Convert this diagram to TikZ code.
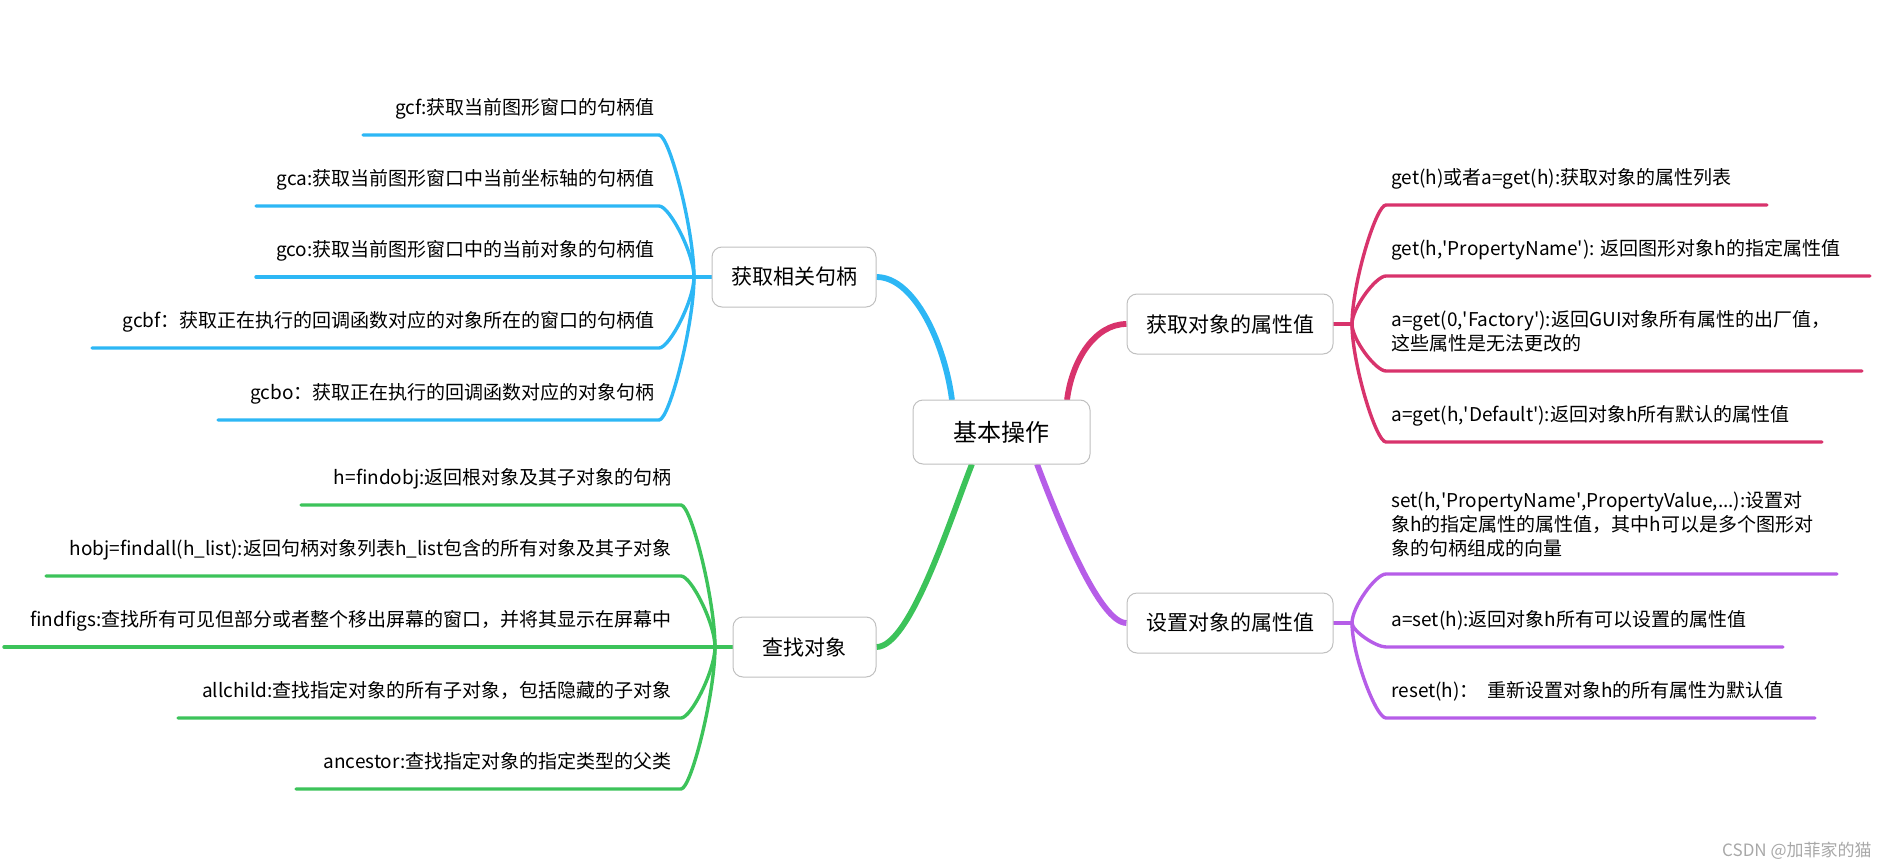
\documentclass[tikz,border=0pt]{standalone}
\usepackage{fontspec}
\setmainfont{Noto Sans CJK SC}
\usetikzlibrary{calc}
\definecolor{cblue}{HTML}{2DB7F5}
\definecolor{cpink}{HTML}{D8336C}
\definecolor{cgreen}{HTML}{3CC35A}
\definecolor{cpurple}{HTML}{B65DE8}
\definecolor{cborder}{HTML}{C0C0C0}
\definecolor{cmark}{HTML}{A8A8A8}
\pgfdeclarelayer{bg}
\pgfsetlayers{bg,main}
\begin{document}
\begin{tikzpicture}[x=0.5pt,y=-0.5pt,
  topic/.style={draw=cborder, line width=0.5pt, rounded corners=5pt, fill=white, inner sep=0pt,
    minimum height=30pt, font=\fontsize{10.5}{13}\selectfont},
  roottopic/.style={topic, minimum height=32pt, minimum width=88.5pt, font=\fontsize{12}{14}\selectfont},
  leafl/.style={anchor=base east, inner sep=0pt, font=\fontsize{9.5}{12}\selectfont, align=right},
  leafr/.style={anchor=base west, inner sep=0pt, font=\fontsize{9.5}{12}\selectfont, align=left},
  mainline/.style={line width=2.9pt},
  subline/.style={line width=1.7pt, line cap=round},
]
\useasboundingbox (0,0) rectangle (1886,867);

% topics
\node[roottopic] (root) at (1001.5,432) {基本操作};
\node[topic, minimum width=82pt] (b1) at (794,277) {获取相关句柄};
\node[topic, minimum width=103pt] (b2) at (1230,324) {获取对象的属性值};
\node[topic, minimum width=71.5pt] (b3) at (804.5,647) {查找对象};
\node[topic, minimum width=103pt] (b4) at (1230,623) {设置对象的属性值};

% blue leaves
\node[leafl] (t11) at (655,114) {gcf:获取当前图形窗口的句柄值};
\node[leafl] (t12) at (655,185) {gca:获取当前图形窗口中当前坐标轴的句柄值};
\node[leafl] (t13) at (655,256) {gco:获取当前图形窗口中的当前对象的句柄值};
\node[leafl] (t14) at (655,327) {gcbf：获取正在执行的回调函数对应的对象所在的窗口的句柄值};
\node[leafl] (t15) at (655,399) {gcbo：获取正在执行的回调函数对应的对象句柄};

% green leaves
\node[leafl] (t31) at (672,484) {h=findobj:返回根对象及其子对象的句柄};
\node[leafl] (t32) at (672,555) {hobj=findall(h\_list):返回句柄对象列表h\_list包含的所有对象及其子对象};
\node[leafl] (t33) at (672,626) {findfigs:查找所有可见但部分或者整个移出屏幕的窗口，并将其显示在屏幕中};
\node[leafl] (t34) at (672,697) {allchild:查找指定对象的所有子对象，包括隐藏的子对象};
\node[leafl] (t35) at (672,768) {ancestor:查找指定对象的指定类型的父类};

% pink leaves (base anchor = baseline of last line)
\node[leafr] (t21) at (1391,184) {get(h)或者a=get(h):获取对象的属性列表};
\node[leafr] (t22) at (1391,255) {get(h,\textquotesingle PropertyName\textquotesingle): 返回图形对象h的指定属性值};
\node[leafr] (t23) at (1391,350) {a=get(0,\textquotesingle Factory\textquotesingle):返回GUI对象所有属性的出厂值，\\这些属性是无法更改的};
\node[leafr] (t24) at (1391,421) {a=get(h,\textquotesingle Default\textquotesingle):返回对象h所有默认的属性值};

% purple leaves
\node[leafr] (t41) at (1391,555) {set(h,\textquotesingle PropertyName\textquotesingle,PropertyValue,...):设置对\\象h的指定属性的属性值，其中h可以是多个图形对\\象的句柄组成的向量};
\node[leafr] (t42) at (1391,626) {a=set(h):返回对象h所有可以设置的属性值};
\node[leafr] (t43) at (1391,697) {reset(h)：\ \ 重新设置对象h的所有属性为默认值};

% watermark
\node[anchor=base east, inner sep=0pt, text=cmark, font=\fontsize{8.5}{10}\selectfont] (wm) at (1872,856) {CSDN @加菲家的猫};

% junctions and line ends
\coordinate (jb) at (694,277);
\coordinate (jp) at (1352,324);
\coordinate (jg) at (715,647);
\coordinate (ju) at (1352,623);

\coordinate (c11) at (659,135); \coordinate (e11) at (363,135);
\coordinate (c12) at (659,206); \coordinate (e12) at (256,206);
\coordinate (e13) at (256,277);
\coordinate (c14) at (659,348); \coordinate (e14) at (92,348);
\coordinate (c15) at (659,420); \coordinate (e15) at (218,420);

\coordinate (c31) at (681,505); \coordinate (e31) at (301,505);
\coordinate (c32) at (681,576); \coordinate (e32) at (46,576);
\coordinate (e33) at (4,647);
\coordinate (c34) at (681,718); \coordinate (e34) at (178,718);
\coordinate (c35) at (681,789); \coordinate (e35) at (296,789);

\coordinate (c21) at (1386,205); \coordinate (e21) at (1767,205);
\coordinate (c22) at (1386,276); \coordinate (e22) at (1870,276);
\coordinate (c23) at (1386,371); \coordinate (e23) at (1862,371);
\coordinate (c24) at (1386,442); \coordinate (e24) at (1822,442);

\coordinate (c41) at (1386,574); \coordinate (e41) at (1837,574);
\coordinate (c42) at (1386,647); \coordinate (e42) at (1783,647);
\coordinate (c43) at (1386,718); \coordinate (e43) at (1815,718);

\coordinate (rb) at (952,400);
\coordinate (rp) at (1067,400);
\coordinate (rg) at (972,464);
\coordinate (ru) at (1037,464);

\begin{pgfonlayer}{bg}
% main branches
\draw[mainline,cblue] (b1.east) .. controls (915,277) and (945,345) .. (rb);
\draw[mainline,cpink] (rp) .. controls (1072,360) and (1095,324) .. (b2.west);
\draw[mainline,cgreen] (rg) .. controls (950,520) and (910,647) .. (b3.east);
\draw[mainline,cpurple] (ru) .. controls (1060,525) and (1100,623) .. (b4.west);

% blue sub-branches
\draw[subline,cblue] (b1.west) -- (e13);
\foreach \i in {11,12,14,15} \draw[subline,cblue] (jb) .. controls ($(jb)!0.33!(jb |- c\i)$) and ($(c\i)!0.3!(c\i -| jb)$) .. (c\i) -- (e\i);
% green sub-branches
\draw[subline,cgreen] (b3.west) -- (e33);
\foreach \i in {31,32,34,35} \draw[subline,cgreen] (jg) .. controls ($(jg)!0.33!(jg |- c\i)$) and ($(c\i)!0.3!(c\i -| jg)$) .. (c\i) -- (e\i);
% pink sub-branches
\draw[subline,cpink] (b2.east) -- (jp);
\foreach \i in {21,22,23,24} \draw[subline,cpink] (jp) .. controls ($(jp)!0.33!(jp |- c\i)$) and ($(c\i)!0.3!(c\i -| jp)$) .. (c\i) -- (e\i);
% purple sub-branches
\draw[subline,cpurple] (b4.east) -- (ju);
\foreach \i in {41,42,43} \draw[subline,cpurple] (ju) .. controls ($(ju)!0.33!(ju |- c\i)$) and ($(c\i)!0.3!(c\i -| ju)$) .. (c\i) -- (e\i);
\end{pgfonlayer}
\end{tikzpicture}
\end{document}
